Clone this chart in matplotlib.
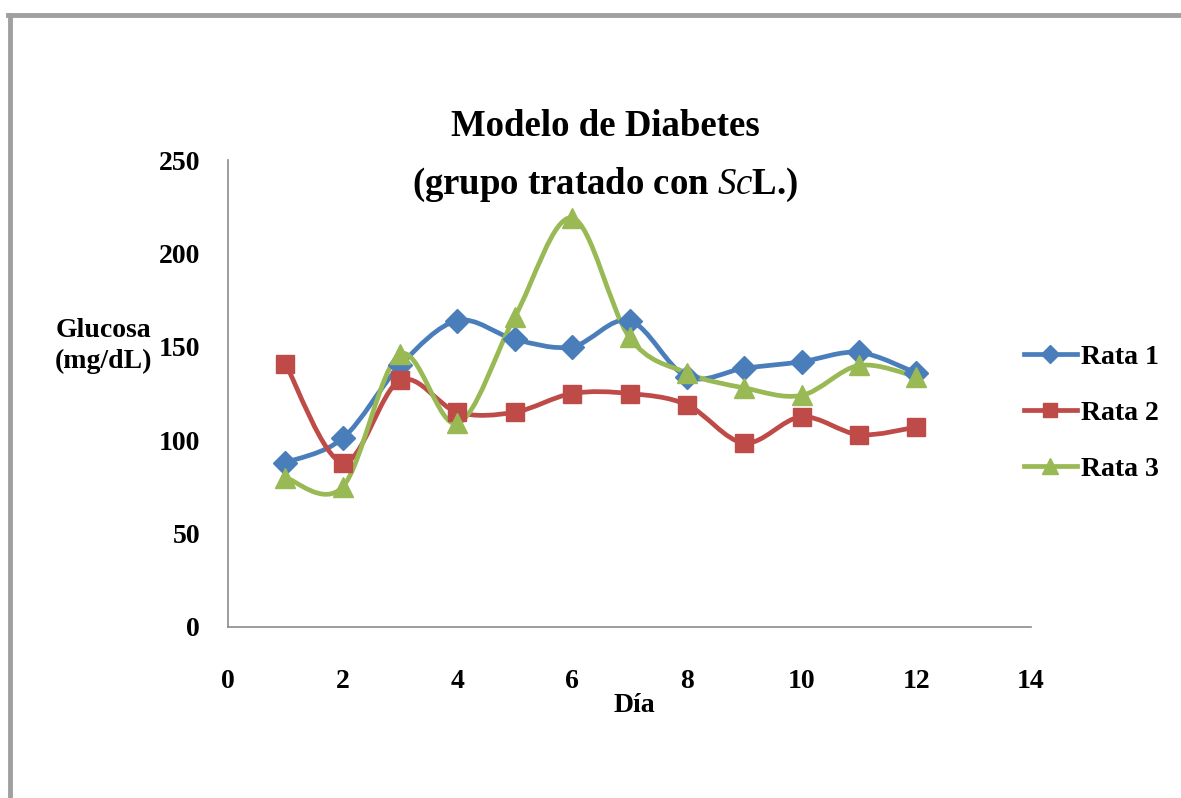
import matplotlib

matplotlib.use("Agg")
import matplotlib.pyplot as plt
from matplotlib.lines import Line2D
from matplotlib.patches import PathPatch
from matplotlib.path import Path
import numpy as np

plt.rcParams["font.family"] = ["Liberation Serif", "DejaVu Serif"]
plt.rcParams["mathtext.fontset"] = "custom"
plt.rcParams["mathtext.rm"] = "Liberation Serif:bold"
plt.rcParams["mathtext.it"] = "Liberation Serif:italic"

dias = [1, 2, 3, 4, 5, 6, 7, 8, 9, 10, 11, 12]
rata1 = [88, 101, 140, 164, 154, 150, 164, 134, 138.5, 142, 147, 136]
rata2 = [141, 88, 132, 115, 115, 125, 125, 119, 98.5, 112.5, 103, 107]
rata3 = [80, 75, 146, 109, 166, 219, 155, 136, 128, 124, 140, 134]

series = [("Rata 1", rata1, "#4A7EBB", "D", 12),
          ("Rata 2", rata2, "#BE4B48", "s", 13),
          ("Rata 3", rata3, "#98B954", "^", 14)]


def smooth_path(x, y):
    """Excel-like smoothed line: cubic Bezier through every point."""
    p = np.column_stack([x, y]).astype(float)
    pts = np.vstack([p[:1], p, p[-1:]])
    verts = [p[0]]
    codes = [Path.MOVETO]
    for i in range(1, len(pts) - 2):
        c1 = pts[i] + (pts[i + 1] - pts[i - 1]) / 6
        c2 = pts[i + 1] - (pts[i + 2] - pts[i]) / 6
        verts += [c1, c2, pts[i + 1]]
        codes += [Path.CURVE4] * 3
    return Path(verts, codes)


fig = plt.figure(figsize=(11.81, 7.98), dpi=100)

# gray frame (top and left edges of the screenshot)
fig.add_artist(Line2D([8 / 1181, 1], [1 - 15 / 798] * 2, color="#A0A0A0",
                      lw=3.5, transform=fig.transFigure))
fig.add_artist(Line2D([10 / 1181] * 2, [0, 1 - 15 / 798], color="#A0A0A0",
                      lw=3.5, transform=fig.transFigure))

ax = fig.add_axes([228 / 1181, 1 - 627 / 798, 803 / 1181, 467 / 798])

for name, vals, col, mk, ms in series:
    ax.add_patch(PathPatch(smooth_path(dias, vals), fill=False,
                           edgecolor=col, lw=3.4, capstyle="round",
                           joinstyle="round", zorder=2))
    ax.plot(dias, vals, ls="none", marker=mk, ms=ms, color=col,
            mec=col, zorder=3)

ax.set_xlim(0, 14)
ax.set_ylim(0, 250)
ax.set_xticks(range(0, 15, 2))
ax.set_yticks(range(0, 251, 50))
for s in ("top", "right"):
    ax.spines[s].set_visible(False)
for s in ("left", "bottom"):
    ax.spines[s].set_color("#8C8C8C")
    ax.spines[s].set_linewidth(1.2)
ax.tick_params(length=0, labelsize=20)
ax.tick_params(axis="x", pad=30)
ax.tick_params(axis="y", pad=20)
for lab in ax.get_xticklabels() + ax.get_yticklabels():
    lab.set_fontweight("bold")

fig.text(605 / 1181, 1 - 127 / 798, "Modelo de Diabetes", ha="center",
         va="center", fontsize=26.5, fontweight="bold")
fig.text(605 / 1181, 1 - 185 / 798, r"(grupo tratado con $Sc$L.)",
         ha="center", va="center", fontsize=26.5, fontweight="bold")
fig.text(103 / 1181, 1 - 346 / 798, "Glucosa\n(mg/dL)", ha="center",
         va="center", fontsize=20, fontweight="bold", linespacing=1.3)
fig.text(634 / 1181, 1 - 705 / 798, "Día", ha="center", va="center",
         fontsize=20, fontweight="bold")

handles = [Line2D([], [], color=c, lw=3.4, marker=m, ms=ms * 0.8, mec=c)
           for _, _, c, m, ms in series]
fig.legend(handles, [s[0] for s in series], loc="center left",
           bbox_to_anchor=(999 / 1181, 1 - 413 / 798), frameon=False,
           prop={"weight": "bold", "size": 20},
           handlelength=1.9, handletextpad=0.15, labelspacing=1.1)

fig.savefig("out.png", dpi=100)
